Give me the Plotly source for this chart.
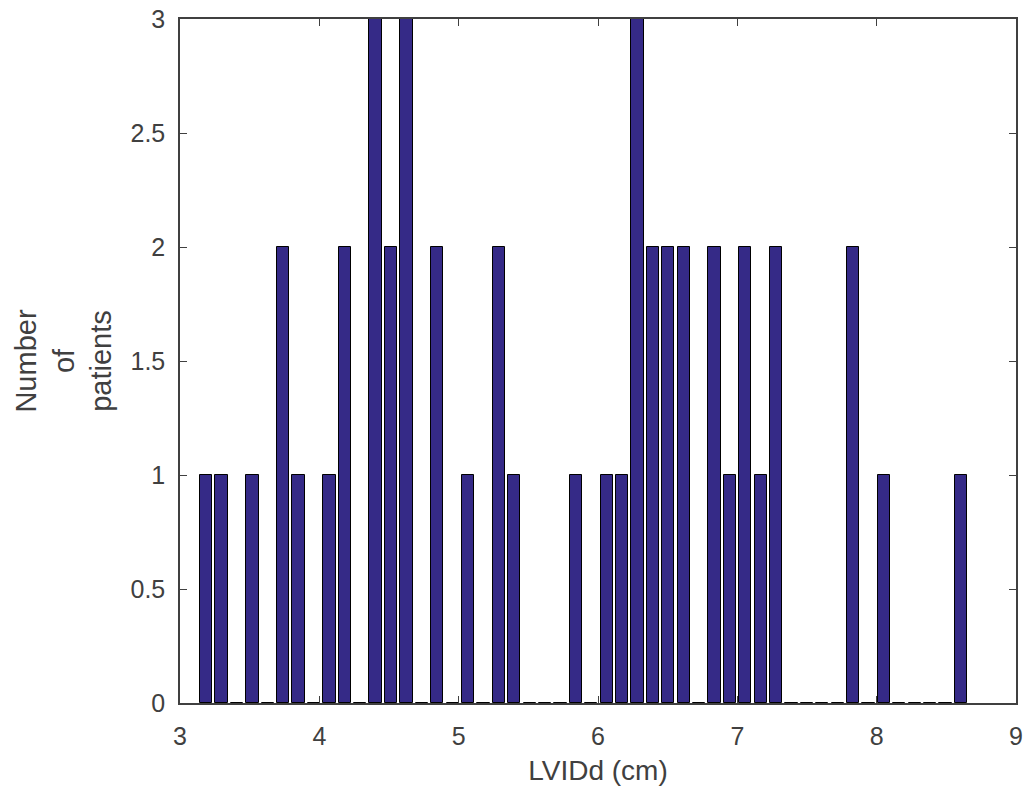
import numpy as np
import plotly.graph_objects as go

# Histogram of LVIDd values: 50 equal bins between data min and max
bin_lo = 3.133
bin_hi = 8.66
n_bins = 50
counts = [1, 1, 0, 1, 0, 2, 1, 0, 1, 2,
          0, 3, 2, 3, 0, 2, 0, 1, 0, 2,
          1, 0, 0, 0, 1, 0, 1, 1, 3, 2,
          2, 2, 0, 2, 1, 2, 1, 2, 0, 0,
          0, 0, 2, 0, 1, 0, 0, 0, 0, 1]
x_ticks = [3, 4, 5, 6, 7, 8, 9]
y_ticks = [0, 0.5, 1, 1.5, 2, 2.5, 3]
y_tick_labels = ["0", "0.5", "1", "1.5", "2", "2.5", "3"]

edges = np.linspace(bin_lo, bin_hi, n_bins + 1)
centers = (edges[:-1] + edges[1:]) / 2
bw = edges[1] - edges[0]

fig = go.Figure()
fig.add_trace(go.Bar(
    x=centers, y=counts, width=0.8 * bw,
    marker=dict(color="#352A87", line=dict(color="#000000", width=1)),
    showlegend=False,
))

axis_col = "#404040"
font = dict(family="Liberation Sans, Arial, sans-serif", size=25, color=axis_col)

fig.update_layout(
    width=1029, height=795,
    margin=dict(l=180, r=13, t=19, b=92, autoexpand=False),
    paper_bgcolor="white", plot_bgcolor="white",
    font=font,
    bargap=0,
    xaxis=dict(
        range=[3, 9], tickvals=x_ticks, ticks="inside", ticklen=7,
        tickcolor=axis_col, showline=True, linecolor=axis_col, linewidth=1.5,
        mirror="ticks", showgrid=False, zeroline=False, automargin=False,
        ticklabelstandoff=10,
        title=dict(text="LVIDd (cm)", font=dict(size=28), standoff=12),
    ),
    yaxis=dict(
        range=[0, 3], tickvals=y_ticks, ticktext=y_tick_labels,
        ticks="inside", ticklen=7,
        tickcolor=axis_col, showline=True, linecolor=axis_col, linewidth=1.5,
        mirror="ticks", showgrid=False, zeroline=False, automargin=False,
        ticklabelstandoff=8,
        title=dict(text="Number<br>of<br>patients", font=dict(size=29), standoff=10),
    ),
)

fig.write_html("out.html")
